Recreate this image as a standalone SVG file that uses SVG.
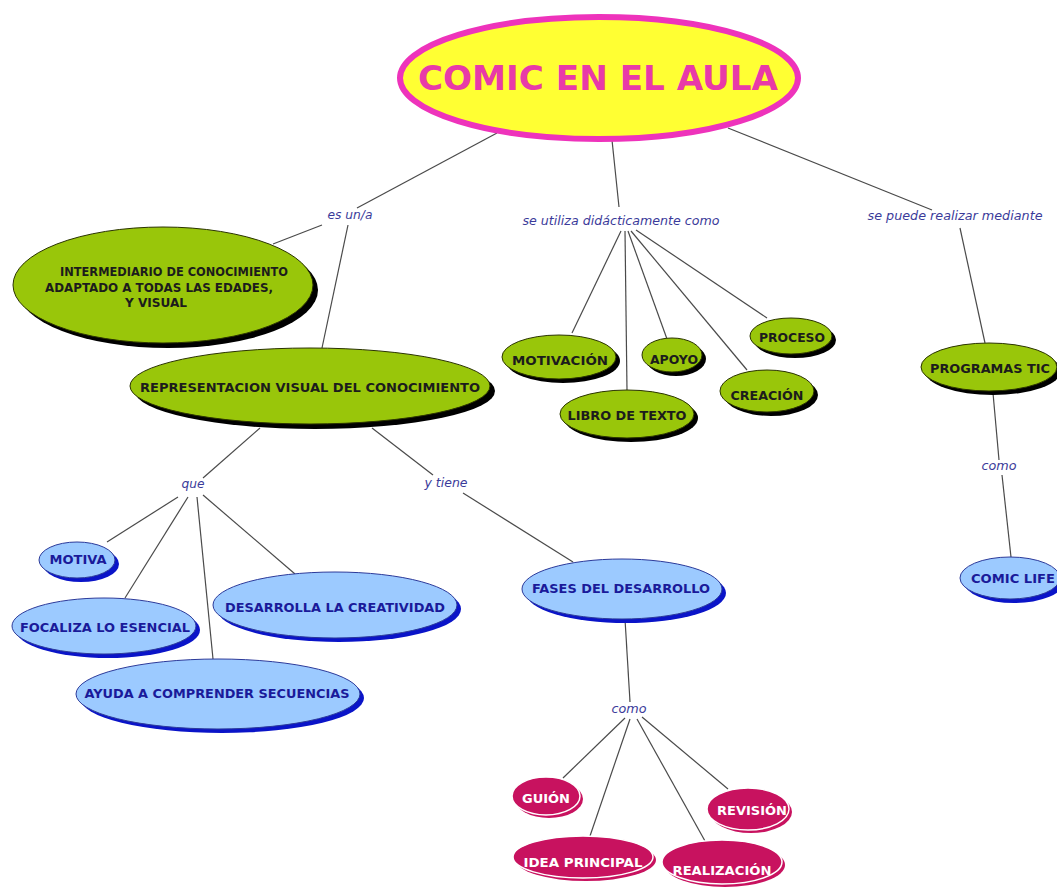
<svg xmlns="http://www.w3.org/2000/svg" width="1057" height="890" viewBox="0 0 1057 890">
<style>
.bg{fill:#ffffff}
.ln{stroke:#4a4a4a;stroke-width:1.2;fill:none}
.lbl{font-family:"DejaVu Sans","Liberation Sans",sans-serif;font-style:italic;font-size:12px;fill:#3b3b9a;text-anchor:middle}
.g{fill:#99c60a;stroke:#2a3300;stroke-width:1}
.gs{fill:#000000}
.gt{font-family:"DejaVu Sans","Liberation Sans",sans-serif;font-weight:bold;font-size:12.5px;fill:#1c1c1c;text-anchor:middle}
.b{fill:#9ccaff;stroke:#2c3a9a;stroke-width:1}
.bs{fill:#0a14c8}
.bt{font-family:"DejaVu Sans","Liberation Sans",sans-serif;font-weight:bold;font-size:12.5px;fill:#1a1a9a;text-anchor:middle}
.p{fill:#c8125f;stroke:#ffffff;stroke-width:1.5}
.ps{fill:#c8125f}
.pt{font-family:"DejaVu Sans","Liberation Sans",sans-serif;font-weight:bold;font-size:12.5px;fill:#ffffff;text-anchor:middle}
.title{font-family:"DejaVu Sans","Liberation Sans",sans-serif;font-weight:bold;font-size:34px;fill:#e83aa8;text-anchor:middle}
</style>
<rect class="bg" x="0" y="0" width="1057" height="890"/>

<g id="connectors">
<line class="ln" x1="497" y1="133" x2="357" y2="208"/>
<line class="ln" x1="612" y1="140" x2="619" y2="207"/>
<line class="ln" x1="728" y1="128" x2="932" y2="210"/>
<line class="ln" x1="322" y1="225" x2="273" y2="244"/>
<line class="ln" x1="348" y1="225" x2="322" y2="348"/>
<line class="ln" x1="621" y1="231" x2="572" y2="333"/>
<line class="ln" x1="625" y1="231" x2="627" y2="390"/>
<line class="ln" x1="628" y1="231" x2="667" y2="339"/>
<line class="ln" x1="631" y1="231" x2="747" y2="370"/>
<line class="ln" x1="636" y1="230" x2="767" y2="318"/>
<line class="ln" x1="960" y1="228" x2="985" y2="343"/>
<line class="ln" x1="993" y1="393" x2="999" y2="460"/>
<line class="ln" x1="1002" y1="475" x2="1011" y2="557"/>
<line class="ln" x1="260" y1="428" x2="203" y2="478"/>
<line class="ln" x1="372" y1="428" x2="433" y2="475"/>
<line class="ln" x1="178" y1="497" x2="107" y2="542"/>
<line class="ln" x1="188" y1="497" x2="125" y2="598"/>
<line class="ln" x1="197" y1="497" x2="213" y2="659"/>
<line class="ln" x1="203" y1="495" x2="295" y2="574"/>
<line class="ln" x1="463" y1="493" x2="573" y2="562"/>
<line class="ln" x1="625" y1="619" x2="630" y2="702"/>
<line class="ln" x1="625" y1="718" x2="563" y2="778"/>
<line class="ln" x1="630" y1="719" x2="590" y2="836"/>
<line class="ln" x1="637" y1="719" x2="705" y2="841"/>
<line class="ln" x1="642" y1="717" x2="728" y2="789"/>
</g>

<g id="labels">
<text class="lbl" x="350" y="219" textLength="45" lengthAdjust="spacingAndGlyphs">es un/a</text>
<text class="lbl" x="621" y="225" textLength="197" lengthAdjust="spacingAndGlyphs">se utiliza didácticamente como</text>
<text class="lbl" x="955" y="220" textLength="175" lengthAdjust="spacingAndGlyphs">se puede realizar mediante</text>
<text class="lbl" x="999" y="470" textLength="35" lengthAdjust="spacingAndGlyphs">como</text>
<text class="lbl" x="193" y="488" textLength="23" lengthAdjust="spacingAndGlyphs">que</text>
<text class="lbl" x="446" y="487" textLength="43" lengthAdjust="spacingAndGlyphs">y tiene</text>
<text class="lbl" x="629" y="713" textLength="35" lengthAdjust="spacingAndGlyphs">como</text>
</g>

<g id="title">
<ellipse cx="599" cy="78" rx="199" ry="61" fill="#ffff33" stroke="#ee33bb" stroke-width="6"/>
<text class="title" x="598" y="90" textLength="360" lengthAdjust="spacingAndGlyphs">COMIC EN EL AULA</text>
</g>

<g id="n-intermediario">
<ellipse class="gs" cx="168" cy="290" rx="150" ry="58"/>
<ellipse class="g" cx="163" cy="285" rx="150" ry="58"/>
<text class="gt" x="174" y="276" textLength="228" lengthAdjust="spacingAndGlyphs">INTERMEDIARIO DE CONOCIMIENTO</text>
<text class="gt" x="159" y="292" textLength="228" lengthAdjust="spacingAndGlyphs">ADAPTADO A TODAS LAS EDADES,</text>
<text class="gt" x="156" y="307" textLength="62" lengthAdjust="spacingAndGlyphs">Y VISUAL</text>
</g>

<g id="n-representacion">
<ellipse class="gs" cx="315" cy="391" rx="180" ry="38"/>
<ellipse class="g" cx="310" cy="386" rx="180" ry="38"/>
<text class="gt" x="310" y="392" textLength="340" lengthAdjust="spacingAndGlyphs">REPRESENTACION VISUAL DEL CONOCIMIENTO</text>
</g>

<g id="n-motivacion">
<ellipse class="gs" cx="563" cy="361" rx="57" ry="22"/>
<ellipse class="g" cx="559" cy="357" rx="57" ry="22"/>
<text class="gt" x="560" y="365" textLength="96" lengthAdjust="spacingAndGlyphs">MOTIVACIÓN</text>
</g>

<g id="n-apoyo">
<ellipse class="gs" cx="676" cy="359" rx="30" ry="17"/>
<ellipse class="g" cx="672" cy="355" rx="30" ry="17"/>
<text class="gt" x="674" y="364" textLength="48" lengthAdjust="spacingAndGlyphs">APOYO</text>
</g>

<g id="n-proceso">
<ellipse class="gs" cx="795" cy="340" rx="41" ry="18"/>
<ellipse class="g" cx="791" cy="336" rx="41" ry="18"/>
<text class="gt" x="792" y="342" textLength="66" lengthAdjust="spacingAndGlyphs">PROCESO</text>
</g>

<g id="n-creacion">
<ellipse class="gs" cx="771" cy="395" rx="47" ry="21"/>
<ellipse class="g" cx="767" cy="391" rx="47" ry="21"/>
<text class="gt" x="767" y="400" textLength="73" lengthAdjust="spacingAndGlyphs">CREACIÓN</text>
</g>

<g id="n-libro">
<ellipse class="gs" cx="631" cy="418" rx="67" ry="24"/>
<ellipse class="g" cx="627" cy="414" rx="67" ry="24"/>
<text class="gt" x="627" y="420" textLength="119" lengthAdjust="spacingAndGlyphs">LIBRO DE TEXTO</text>
</g>

<g id="n-programas">
<ellipse class="gs" cx="993" cy="371" rx="68" ry="24"/>
<ellipse class="g" cx="989" cy="367" rx="68" ry="24"/>
<text class="gt" x="990" y="373" textLength="120" lengthAdjust="spacingAndGlyphs">PROGRAMAS TIC</text>
</g>

<g id="n-comiclife">
<ellipse class="bs" cx="1014" cy="582" rx="50" ry="21"/>
<ellipse class="b" cx="1010" cy="578" rx="50" ry="21"/>
<text class="bt" x="1013" y="583" textLength="84" lengthAdjust="spacingAndGlyphs">COMIC LIFE</text>
</g>

<g id="n-motiva">
<ellipse class="bs" cx="81" cy="564" rx="38" ry="18"/>
<ellipse class="b" cx="77" cy="560" rx="38" ry="18"/>
<text class="bt" x="78" y="564" textLength="57" lengthAdjust="spacingAndGlyphs">MOTIVA</text>
</g>

<g id="n-focaliza">
<ellipse class="bs" cx="108" cy="630" rx="92" ry="28"/>
<ellipse class="b" cx="104" cy="626" rx="92" ry="28"/>
<text class="bt" x="105" y="632" textLength="170" lengthAdjust="spacingAndGlyphs">FOCALIZA LO ESENCIAL</text>
</g>

<g id="n-desarrolla">
<ellipse class="bs" cx="339" cy="609" rx="122" ry="33"/>
<ellipse class="b" cx="335" cy="605" rx="122" ry="33"/>
<text class="bt" x="335" y="612" textLength="220" lengthAdjust="spacingAndGlyphs">DESARROLLA LA CREATIVIDAD</text>
</g>

<g id="n-ayuda">
<ellipse class="bs" cx="222" cy="698" rx="142" ry="35"/>
<ellipse class="b" cx="218" cy="694" rx="142" ry="35"/>
<text class="bt" x="217" y="698" textLength="265" lengthAdjust="spacingAndGlyphs">AYUDA A COMPRENDER SECUENCIAS</text>
</g>

<g id="n-fases">
<ellipse class="bs" cx="626" cy="593" rx="100" ry="30"/>
<ellipse class="b" cx="622" cy="589" rx="100" ry="30"/>
<text class="bt" x="621" y="593" textLength="178" lengthAdjust="spacingAndGlyphs">FASES DEL DESARROLLO</text>
</g>

<g id="n-guion">
<ellipse class="ps" cx="549" cy="799" rx="34" ry="19"/>
<ellipse class="p" cx="546" cy="796" rx="34" ry="19"/>
<text class="pt" x="546" y="803" textLength="48" lengthAdjust="spacingAndGlyphs">GUIÓN</text>
</g>

<g id="n-idea">
<ellipse class="ps" cx="586" cy="860" rx="70" ry="21"/>
<ellipse class="p" cx="583" cy="857" rx="70" ry="21"/>
<text class="pt" x="583" y="867" textLength="119" lengthAdjust="spacingAndGlyphs">IDEA PRINCIPAL</text>
</g>

<g id="n-realizacion">
<ellipse class="ps" cx="725" cy="865" rx="60" ry="22"/>
<ellipse class="p" cx="722" cy="862" rx="60" ry="22"/>
<text class="pt" x="722" y="875" textLength="99" lengthAdjust="spacingAndGlyphs">REALIZACIÓN</text>
</g>

<g id="n-revision">
<ellipse class="ps" cx="751" cy="812" rx="41" ry="21"/>
<ellipse class="p" cx="748" cy="809" rx="41" ry="21"/>
<text class="pt" x="752" y="815" textLength="70" lengthAdjust="spacingAndGlyphs">REVISIÓN</text>
</g>
</svg>
